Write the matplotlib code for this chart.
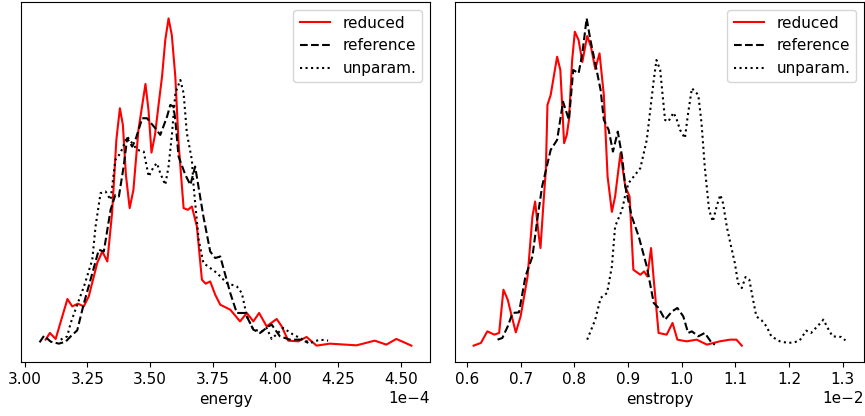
import matplotlib
matplotlib.use("Agg")
import matplotlib.pyplot as plt
import numpy as np

# ---- energy panel (x in units of 1e-4, density arbitrary) ----
e_red_x = [3.084, 3.101, 3.124, 3.171, 3.190, 3.213, 3.236, 3.256, 3.290, 3.310, 3.330, 3.349,
           3.356, 3.366, 3.380, 3.392, 3.404, 3.419, 3.434, 3.454, 3.482, 3.494, 3.506, 3.520,
           3.535, 3.548, 3.561, 3.574, 3.587, 3.601, 3.614, 3.634, 3.651, 3.667, 3.687, 3.707,
           3.722, 3.740, 3.760, 3.780, 3.820, 3.859, 3.886, 3.912, 3.935, 3.965, 4.005, 4.025,
           4.051, 4.091, 4.124, 4.164, 4.217, 4.323, 4.396, 4.442, 4.482, 4.542]
e_red_y = [0.06, 0.127, 0.067, 0.467, 0.393, 0.42, 0.393, 0.493, 0.83, 0.943, 0.843, 1.33,
           1.627, 2.06, 2.377, 2.21, 1.71, 1.377, 1.56, 2.16, 2.62, 2.36, 1.933, 2.11,
           2.427, 2.693, 3.06, 3.277, 3.11, 2.693, 2.027, 1.377, 1.36, 1.393, 1.193, 0.66,
           0.62, 0.643, 0.51, 0.41, 0.36, 0.243, 0.327, 0.243, 0.327, 0.193, 0.267, 0.193,
           0.05, 0.043, 0.087, 0.0, 0.02, 0.003, 0.05, 0.01, 0.067, 0.0]

e_ref_x = [3.060, 3.078, 3.104, 3.137, 3.164, 3.184, 3.210, 3.237, 3.263, 3.296, 3.316, 3.343,
           3.362, 3.376, 3.395, 3.409, 3.429, 3.442, 3.469, 3.488, 3.521, 3.541, 3.568, 3.581,
           3.594, 3.601, 3.614, 3.641, 3.661, 3.680, 3.713, 3.740, 3.760, 3.780, 3.820, 3.846,
           3.879, 3.912, 3.939, 3.972, 3.985, 4.018, 4.058, 4.105, 4.131]
e_ref_y = [0.033, 0.10, 0.04, 0.02, 0.04, 0.093, 0.153, 0.427, 0.66, 0.96, 0.943, 1.36,
           1.51, 1.493, 1.793, 2.077, 1.993, 2.06, 2.277, 2.277, 2.177, 2.11, 2.293, 2.41,
           2.393, 2.26, 1.893, 1.71, 1.61, 1.793, 1.293, 0.943, 0.877, 0.893, 0.527, 0.327,
           0.327, 0.16, 0.127, 0.193, 0.21, 0.093, 0.06, 0.06, 0.027]

e_unp_x = [3.144, 3.170, 3.184, 3.210, 3.237, 3.270, 3.283, 3.303, 3.323, 3.343, 3.362, 3.382,
           3.409, 3.429, 3.449, 3.475, 3.495, 3.515, 3.528, 3.541, 3.561, 3.574, 3.588, 3.601,
           3.621, 3.634, 3.647, 3.667, 3.674, 3.694, 3.713, 3.767, 3.806, 3.846, 3.866, 3.886,
           3.912, 3.946, 3.965, 3.985, 4.031, 4.071, 4.138, 4.177, 4.210]
e_unp_y = [0.06, 0.093, 0.227, 0.41, 0.593, 0.86, 1.193, 1.527, 1.543, 1.46, 1.86, 1.927,
           2.093, 2.027, 1.96, 1.943, 1.693, 1.793, 1.827, 1.727, 1.61, 1.793, 2.127, 2.527,
           2.66, 2.527, 2.127, 1.86, 1.593, 1.06, 0.827, 0.727, 0.627, 0.593, 0.527, 0.293,
           0.16, 0.143, 0.177, 0.067, 0.177, 0.11, 0.027, 0.06, 0.05]

# ---- enstropy panel (x in units of 1e-2) ----
s_red_x = [0.6124, 0.626, 0.638, 0.651, 0.660, 0.668, 0.676, 0.682, 0.691, 0.700, 0.713, 0.722,
           0.727, 0.734, 0.737, 0.743, 0.747, 0.750, 0.756, 0.768, 0.774, 0.781, 0.786, 0.790,
           0.796, 0.801, 0.808, 0.815, 0.824, 0.831, 0.839, 0.847, 0.855, 0.862, 0.870, 0.876,
           0.886, 0.895, 0.903, 0.910, 0.923, 0.930, 0.936, 0.943, 0.948, 0.957, 0.972, 0.983,
           0.992, 1.009, 1.028, 1.047, 1.071, 1.090, 1.102, 1.112]
s_red_y = [0.0, 0.027, 0.143, 0.11, 0.127, 0.56, 0.46, 0.327, 0.133, 0.293, 0.693, 1.293,
           1.443, 1.093, 0.977, 1.46, 1.76, 2.41, 2.51, 2.893, 2.76, 2.027, 2.11, 2.26,
           2.86, 3.143, 3.06, 2.84, 3.10, 2.993, 2.77, 2.927, 2.51, 1.693, 1.34, 1.493,
           1.927, 1.593, 1.493, 0.76, 0.71, 0.743, 0.693, 0.977, 0.66, 0.127, 0.11, 0.227,
           0.06, 0.043, 0.06, 0.01, 0.043, 0.06, 0.06, 0.0]

s_ref_x = [0.657, 0.666, 0.676, 0.685, 0.697, 0.709, 0.722, 0.731, 0.740, 0.756, 0.768, 0.779,
           0.790, 0.798, 0.808, 0.815, 0.823, 0.830, 0.839, 0.849, 0.855, 0.864, 0.872, 0.881,
           0.889, 0.895, 0.907, 0.920, 0.935, 0.948, 0.957, 0.969, 0.982, 0.992, 1.003, 1.012,
           1.019, 1.031, 1.043, 1.056, 1.062]
s_ref_y = [0.06, 0.077, 0.193, 0.327, 0.333, 0.693, 0.893, 1.26, 1.593, 1.96, 2.06, 2.443,
           2.26, 2.76, 2.727, 2.927, 3.277, 3.06, 2.827, 2.56, 2.26, 2.16, 1.943, 2.143,
           1.893, 1.593, 1.293, 1.093, 0.793, 0.427, 0.377, 0.26, 0.343, 0.377, 0.293, 0.127,
           0.143, 0.093, 0.127, 0.027, 0.01]

s_unp_x = [0.824, 0.839, 0.849, 0.861, 0.870, 0.876, 0.889, 0.895, 0.901, 0.923, 0.935, 0.948,
           0.953, 0.960, 0.969, 0.975, 0.985, 0.991, 0.997, 1.006, 1.012, 1.019, 1.031, 1.037,
           1.043, 1.051, 1.058, 1.066, 1.072, 1.077, 1.084, 1.090, 1.099, 1.105, 1.112, 1.119,
           1.126, 1.133, 1.139, 1.149, 1.158, 1.167, 1.183, 1.198, 1.210, 1.220, 1.232, 1.241,
           1.254, 1.264, 1.272, 1.281, 1.297, 1.305]
s_unp_y = [0.06, 0.26, 0.477, 0.527, 0.793, 1.193, 1.36, 1.51, 1.627, 1.777, 2.06, 2.66,
           2.86, 2.76, 2.26, 2.243, 2.333, 2.26, 2.16, 2.077, 2.327, 2.577, 2.51, 2.227,
           1.793, 1.36, 1.243, 1.41, 1.51, 1.427, 1.193, 1.043, 0.827, 0.627, 0.577, 0.687,
           0.66, 0.46, 0.293, 0.253, 0.193, 0.093, 0.043, 0.027, 0.033, 0.053, 0.15, 0.127,
           0.20, 0.26, 0.177, 0.093, 0.087, 0.053]

labels = ["reduced", "reference", "unparam."]
e_ticks = [3.00, 3.25, 3.50, 3.75, 4.00, 4.25, 4.50]
s_ticks = [0.6, 0.7, 0.8, 0.9, 1.0, 1.1, 1.2, 1.3]

plt.rcParams['font.family'] = ['DejaVu Sans']
plt.rcParams['font.size'] = 11

W, H = 865, 416
fig = plt.figure(figsize=(W / 100, H / 100), dpi=100)
ax1 = fig.add_axes([21 / W, (H - 362) / H, 409 / W, 360 / H])
ax2 = fig.add_axes([455 / W, (H - 362) / H, 409 / W, 360 / H])

def draw(ax, scale, rx, ry, fx, fy, ux, uy, xlabel, ticks):
    ax.plot(np.array(rx) * scale, ry, color='red', lw=1.5, label=labels[0])
    ax.plot(np.array(fx) * scale, fy, color='black', ls='--', lw=1.5, label=labels[1])
    ax.plot(np.array(ux) * scale, uy, color='black', ls=':', lw=1.5, label=labels[2])
    ax.set_yticks([])
    ax.set_xlabel(xlabel, labelpad=4)
    ax.set_xticks(np.array(ticks) * scale)
    ax.margins(x=0.05, y=0.05)
    ax.ticklabel_format(axis='x', style='sci', scilimits=(0, 0))
    ax.legend(loc='upper right', fontsize=11)

draw(ax1, 1e-4, e_red_x, e_red_y, e_ref_x, e_ref_y, e_unp_x, e_unp_y, "energy", e_ticks)
draw(ax2, 1e-2, s_red_x, s_red_y, s_ref_x, s_ref_y, s_unp_x, s_unp_y, "enstropy", s_ticks)

fig.savefig("out.png", dpi=100)
